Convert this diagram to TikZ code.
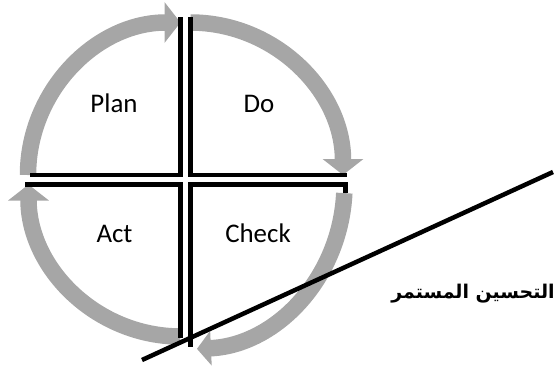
\documentclass[tikz,border=0pt]{standalone}
\usepackage{fontspec}
\setmainfont{Carlito}
\newfontfamily\arabicfont[Script=Arabic]{DejaVu Sans}
\TeXXeTstate=1
\usetikzlibrary{arrows.meta}
\definecolor{cyclegray}{RGB}{166,166,166}
\begin{document}
\begin{tikzpicture}[x=1bp,y=-1bp,
  band/.style={draw=cyclegray,line width=16.5bp},
  bigtip/.style={-{Triangle[width=40bp,length=16bp]}},
  edge/.style={draw=black,line width=4.8bp,line join=miter},
  phase/.style={font=\fontsize{27}{32}\selectfont,anchor=base,inner sep=0pt},
  trend/.style={draw=black,line width=4.5bp}]
\useasboundingbox (0,0) rectangle (559,371);

% quarter-circle arrows of the cycle
\draw[band,bigtip] (180.5,175) ++(180:152.5) arc[start angle=180,end angle=270,radius=152.5];
\draw[band,bigtip] (190.5,175) ++(270:152.5) arc[start angle=270,end angle=360,radius=152.5];
\draw[band,-{Triangle[width=34bp,length=14bp]}] (190.5,184.5) ++(3:154 and 164.5)
  arc[start angle=3,end angle=87.6,x radius=154,y radius=164.5];
\draw[band,bigtip] (180.5,184.5) ++(90:152) arc[start angle=90,end angle=180,radius=152];

% inner edges of the four quadrants
\coordinate (p1) at (30,175);   \coordinate (pc) at (180.5,175);   \coordinate (p2) at (180.5,17);
\coordinate (d1) at (190.5,17); \coordinate (dc) at (190.5,175);   \coordinate (d2) at (347,175);
\coordinate (c0) at (345.5,193);\coordinate (c1) at (345.5,184.5); \coordinate (cc) at (190.5,184.5); \coordinate (c2) at (190.5,347);
\coordinate (a1) at (25,184.5); \coordinate (ac) at (180.5,184.5); \coordinate (a2) at (180.5,338);
\draw[edge] (p1) -- (pc) -- (p2);
\draw[edge] (d1) -- (dc) -- (d2);
\draw[edge] (c0) -- (c1) -- (cc) -- (c2);
\draw[edge] (a1) -- (ac) -- (a2);

% phase labels
\node[phase] (plan)  at (114,112) {Plan};
\node[phase] (do)    at (259,112) {Do};
\node[phase] (act)   at (114.5,242) {Act};
\node[phase] (check) at (258,242) {Check};

% improvement trend line and its label
\coordinate (t1) at (142,360);
\coordinate (t2) at (553,172);
\draw[trend] (t1) -- (t2);
\node[font=\arabicfont\bfseries\fontsize{19}{24}\selectfont,inner sep=0pt] (ci) at (473,294)
  {\beginR التحسين المستمر\endR};
\end{tikzpicture}
\end{document}
